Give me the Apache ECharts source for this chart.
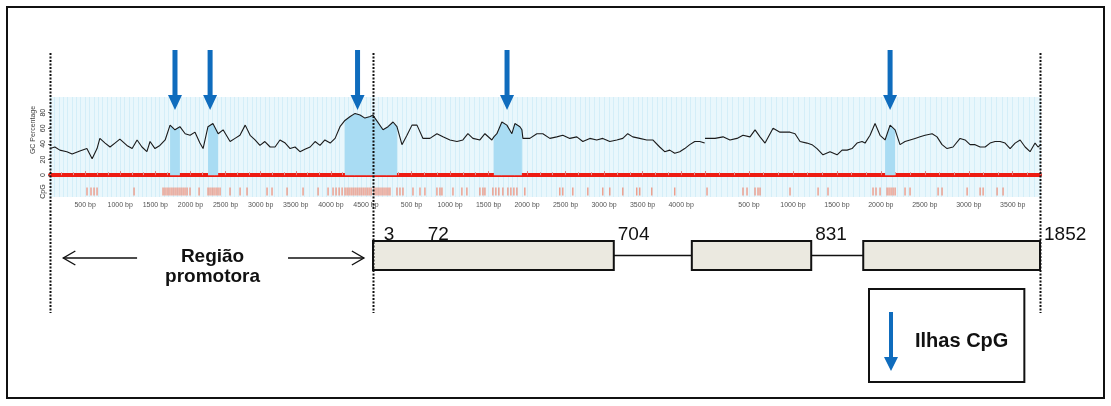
<!DOCTYPE html>
<html>
<head>
<meta charset="utf-8">
<script src="https://cdn.jsdelivr.net/npm/echarts@6/dist/echarts.min.js"></script>
<style>
  html, body { margin: 0; padding: 0; background: #fff; }
  #wrap { position: relative; width: 1111px; height: 406px; }
  #chart { width: 1111px; height: 406px; }
  #frame { position: absolute; left: 6px; top: 6px; width: 1099px; height: 393px;
           border: 2px solid #111; box-sizing: border-box; pointer-events: none; }
</style>
</head>
<body>
<div id="wrap"><div id="chart"></div><div id="frame"></div></div>
<script>
// ---- GC content along the three sequence stretches (position in bp, GC %) ----
const promoterPos = [0,70,140,240,315,425,525,600,670,710,785,855,925,995,1095,1170,1240,1310,1380,1425,1495,1565,1640,1710,1780,1850,1925,1995,2065,2135,2180,2250,2320,2395,2465,2565,2635,2705,2780,2850,2920,2990,3060,3135,3205,3275,3350,3420,3490,3560,3630,3705,3775,3845,3915,3990,4060,4130,4200,4275,4345,4415,4485,4560,4600];
const promoterGC  = [34,36,32,30,27,31,34,21,34,47,41,36,41,46,38,34,45,36,30,43,34,38,45,64,58,62,53,51,55,41,34,62,66,53,58,43,47,51,64,51,45,38,43,36,36,45,41,34,36,30,33,36,43,38,45,41,47,62,70,75,79,77,73,75,77];

const geneAPos = [0,26,130,195,260,311,376,441,506,571,649,739,830,908,999,1090,1167,1232,1297,1388,1453,1543,1569,1608,1673,1738,1803,1842,1907,1933,1946,2036,2127,2205,2296,2386,2464,2555,2646,2724,2815,2905,2983,3074,3165,3243,3307,3372,3463,3554,3632,3722,3787,3852,3917,3982,4047,4112,4177,4242,4306];
const geneAGC  = [77,73,58,62,68,62,39,51,64,64,47,47,53,49,45,43,45,53,47,45,53,45,49,53,68,64,53,66,62,58,47,47,53,53,47,49,51,47,49,43,47,45,47,43,45,47,53,49,47,45,45,36,30,32,28,30,34,39,43,43,41];

const geneBPos = [0,114,205,284,364,432,512,569,626,683,774,853,967,1024,1081,1160,1217,1274,1342,1422,1502,1559,1616,1672,1729,1786,1820,1877,1934,1991,2048,2105,2162,2218,2275,2332,2389,2446,2503,2583,2639,2696,2753,2821,2901,2958,3015,3072,3129,3186,3242,3299,3356,3413,3470,3527,3584,3641,3697,3754,3788,3810];
const geneBGC  = [47,47,49,45,47,51,49,58,49,41,60,55,55,53,43,41,39,34,26,30,26,32,32,34,41,43,41,51,66,51,45,64,58,39,43,45,47,49,51,53,49,39,34,36,47,45,39,39,36,36,41,43,43,41,34,41,45,36,30,41,36,38];

// stretch lengths (bp)
const stretchLength = [4600, 4310, 3810];

// CpG islands [start, end] in bp, and where each island is flagged
const promoterIslands = [[1710, 1850], [2250, 2395], [4200, 4600]];
const geneAIslands    = [[0, 340], [1569, 1933]];
const geneBIslands    = [[2048, 2162]];
const promoterArrows  = [1780, 2280, 4380];
const geneAArrows     = [1740];
const geneBArrows     = [2105];

// individual CpG dinucleotides (bp)
const promoterCpG = [527,584,627,670,1197,1610,1638,1667,1695,1724,1752,1781,1809,1838,1866,1895,1923,1952,1994,2123,2251,2279,2308,2336,2365,2393,2422,2564,2707,2806,3091,3162,3376,3604,3818,3960,4031,4074,4117,4160,4202,4231,4259,4288,4316,4345,4373,4402,4430,4459,4487,4516,4544,4573];
const geneACpG    = [13,39,65,91,117,143,169,195,220,311,350,389,519,610,674,830,869,895,1038,1154,1219,1388,1427,1453,1556,1595,1634,1686,1751,1790,1829,1868,1971,2425,2464,2594,2789,2983,3074,3243,3424,3463,3619,3917];
const geneBCpG    = [23,432,478,569,603,626,967,1286,1399,1911,1945,1991,2071,2093,2116,2139,2162,2275,2332,2651,2696,2981,3129,3163,3322,3390];

// GC axis
const gcTicks = [0, 20, 40, 60, 80];

// gene model (schematic units 0-100) and transcript coordinates
const exons = [[0, 36.1], [47.8, 65.7], [73.5, 100]];
const exonMarks = ['3', '72', '704', '831', '1852'];
const exonMarkAt = [1, 7.6, 36.1, 65.7, 100];

// promoter annotation: arrow [tail, tip] in promoter bp
const promoterLabel = 'Região\npromotora';
const promoterArrowSpans = [[1240, 190], [3390, 4470]];
const legendLabel = 'Ilhas CpG';

// ---------------------------------------------------------------------------
const FONT = "Arial, 'Liberation Sans', sans-serif";
const BLUE = '#0f6cbd';
const CPG_ROW = -21;

const stretches = [
  { pos: promoterPos, gc: promoterGC, islands: promoterIslands, arrows: promoterArrows, cpg: promoterCpG },
  { pos: geneAPos,    gc: geneAGC,    islands: geneAIslands,    arrows: geneAArrows,    cpg: geneACpG },
  { pos: geneBPos,    gc: geneBGC,    islands: geneBIslands,    arrows: geneBArrows,    cpg: geneBCpG }
];
const gridBoxes = [{ left: 50, width: 323 }, { left: 373, width: 332 }, { left: 705, width: 335 }];

function arrowItem(params, api) {
  const x = api.coord([api.value(0), 0])[0];
  const cs = params.coordSys;
  const top = cs.y - 47, head = cs.y - 2, tip = cs.y + 13;
  return {
    type: 'polygon',
    shape: { points: [[x - 2.5, top], [x + 2.5, top], [x + 2.5, head], [x + 7, head], [x, tip], [x - 7, head], [x - 2.5, head]] },
    style: { fill: BLUE }
  };
}

function boundaryItem(params, api) {
  const x = Math.round(api.coord([api.value(0), 0])[0]) + 0.5;
  const cs = params.coordSys;
  return {
    type: 'line',
    shape: { x1: x, y1: cs.y - 44, x2: x, y2: cs.y + 216 },
    style: { stroke: '#111', lineWidth: 2, lineDash: [2, 1.5] }
  };
}

function promoterNoteItem(params, api) {
  const cs = params.coordSys;
  const ay = cs.y + 161;
  const children = [];
  promoterArrowSpans.forEach(([tail, tip]) => {
    const x0 = api.coord([tail, 0])[0], x1 = api.coord([tip, 0])[0];
    const d = x1 > x0 ? 1 : -1;
    children.push({ type: 'line', shape: { x1: x0, y1: ay, x2: x1, y2: ay }, style: { stroke: '#111', lineWidth: 1.4 } });
    children.push({ type: 'polyline', shape: { points: [[x1 - d * 12, ay - 7], [x1, ay], [x1 - d * 12, ay + 7]] },
                    style: { stroke: '#111', lineWidth: 1.4, fill: null } });
  });
  const cx = (api.coord([promoterArrowSpans[0][0], 0])[0] + api.coord([promoterArrowSpans[1][0], 0])[0]) / 2;
  children.push({ type: 'text', style: { text: promoterLabel, x: cx, y: cs.y + 169.5, align: 'center', verticalAlign: 'middle',
                  fontFamily: FONT, fontWeight: 'bold', fontSize: 19, lineHeight: 20, fill: '#111' } });
  return { type: 'group', children };
}

const grid = gridBoxes.map(b => ({
  left: b.left, width: b.width, top: 97, height: 100,
  show: true, backgroundColor: '#e9f7fc', borderWidth: 0
}));
grid.push({ left: 373, width: 667, top: 241, height: 29 });

const xAxis = [];
const yAxis = [];
stretches.forEach((s, i) => {
  xAxis.push({
    type: 'value', gridIndex: i, min: 0, max: stretchLength[i], interval: 500,
    axisLine: { onZero: true, lineStyle: { color: '#ee1c12', width: 4 } },
    axisTick: { inside: true, length: 4, lineStyle: { color: '#d77', width: 1 } },
    minorTick: { show: true, splitNumber: 3, length: 3, lineStyle: { color: '#d99', width: 1 } },
    axisLabel: { fontSize: 7, color: '#555', fontFamily: FONT, margin: 5, showMinLabel: false, showMaxLabel: false,
                 formatter: v => v + ' bp' },
    splitLine: { show: false }
  });
});
stretches.forEach((s, i) => {
  xAxis.push({
    type: 'value', gridIndex: i, min: 0, max: stretchLength[i], interval: 62.5,
    axisLine: { show: false }, axisTick: { show: false }, axisLabel: { show: false },
    splitLine: { show: true, lineStyle: { color: '#d4eef8', width: 1 } }
  });
});
xAxis.push({ type: 'value', gridIndex: 3, min: 0, max: 100, show: false });

stretches.forEach((s, i) => {
  yAxis.push(i === 0 ? {
    type: 'value', gridIndex: i, min: -28, max: 100,
    name: 'GC Percentage', nameLocation: 'middle', nameGap: 13, nameRotate: 90,
    nameTextStyle: { fontSize: 7, color: '#444', fontFamily: FONT, padding: [0, 0, 0, 34] },
    axisLine: { show: false },
    axisTick: { show: true, length: 2, customValues: gcTicks, lineStyle: { color: '#666' } },
    axisLabel: { fontSize: 7, color: '#333', fontFamily: FONT, rotate: 90, margin: 3,
                 customValues: [CPG_ROW].concat(gcTicks), formatter: v => (v < 0 ? 'CpG' : String(v)) },
    splitLine: { show: false }
  } : { type: 'value', gridIndex: i, min: -28, max: 100, show: false, splitLine: { show: false } });
});
yAxis.push({ type: 'value', gridIndex: 3, min: 0, max: 1, show: false });

const series = [];
stretches.forEach((s, i) => {
  const pts = s.pos.map((p, k) => [p, s.gc[k]]);
  const inIsland = p => s.islands.some(([a, b]) => p >= a && p <= b);
  series.push({
    type: 'line', xAxisIndex: i, yAxisIndex: i, silent: true, z: 2,
    data: pts.map(([p, g]) => (inIsland(p) ? [p, g] : [p, '-'])),
    showSymbol: false, connectNulls: false,
    lineStyle: { opacity: 0 }, areaStyle: { color: '#a9dcf3', opacity: 1 }
  });
  series.push({
    type: 'line', xAxisIndex: i, yAxisIndex: i, silent: true, z: 3,
    data: pts, showSymbol: false,
    lineStyle: { color: '#1b1b1b', width: 1.1 }
  });
  series.push({
    type: 'scatter', xAxisIndex: i, yAxisIndex: i, silent: true, z: 2,
    data: s.cpg.map(p => [p, CPG_ROW]), symbol: 'rect', symbolSize: [1.3, 8],
    itemStyle: { color: '#ef7c62' }
  });
  series.push({
    type: 'custom', name: legendLabel, xAxisIndex: i, yAxisIndex: i, silent: true, z: 10,
    data: s.arrows.map(p => [p]), renderItem: arrowItem, itemStyle: { color: BLUE }
  });
});
// stretch boundaries
series.push({ type: 'custom', xAxisIndex: 0, yAxisIndex: 0, silent: true, z: 11,
              data: [[0], [stretchLength[0]]], renderItem: boundaryItem });
series.push({ type: 'custom', xAxisIndex: 2, yAxisIndex: 2, silent: true, z: 11,
              data: [[stretchLength[2]]], renderItem: boundaryItem });
// promoter annotation
series.push({ type: 'custom', xAxisIndex: 0, yAxisIndex: 0, silent: true, z: 11,
              data: [[0]], renderItem: promoterNoteItem });

// gene model
series.push({
  type: 'custom', xAxisIndex: 6, yAxisIndex: 3, silent: true, z: 5,
  data: exons.slice(0, -1).map((e, k) => [e[1], exons[k + 1][0]]),
  renderItem: (params, api) => {
    const a = api.coord([api.value(0), 0.5]), b = api.coord([api.value(1), 0.5]);
    return { type: 'line', shape: { x1: a[0], y1: a[1], x2: b[0], y2: b[1] }, style: { stroke: '#111', lineWidth: 1.6 } };
  }
});
series.push({
  type: 'custom', xAxisIndex: 6, yAxisIndex: 3, silent: true, z: 6,
  data: exons,
  renderItem: (params, api) => {
    const a = api.coord([api.value(0), 1]), b = api.coord([api.value(1), 0]);
    return { type: 'rect', shape: { x: a[0], y: a[1], width: b[0] - a[0], height: b[1] - a[1] },
             style: { fill: '#ebe9e0', stroke: '#111', lineWidth: 2 } };
  }
});
series.push({
  type: 'custom', xAxisIndex: 6, yAxisIndex: 3, silent: true, z: 7,
  data: exonMarkAt.map((p, k) => [p, k]),
  renderItem: (params, api) => {
    const c = api.coord([api.value(0), 1]);
    return { type: 'text', style: { text: exonMarks[api.value(1)], x: c[0] + 4, y: c[1] + 3, align: 'left', verticalAlign: 'bottom',
             fontFamily: FONT, fontSize: 19, fill: '#111' } };
  }
});

const chart = echarts.init(document.getElementById('chart'), null, { renderer: 'canvas' });
chart.setOption({
  animation: false,
  backgroundColor: '#fff',
  grid, xAxis, yAxis, series,
  legend: {
    data: [legendLabel], selectedMode: false,
    left: 869, top: 289, orient: 'vertical',
    padding: [23, 16, 11, 15],
    borderColor: '#111', borderWidth: 2, backgroundColor: '#fff',
    icon: 'path://M5,0L9,0L9,45L14,45L7,59L0,45L5,45Z',
    itemWidth: 38, itemHeight: 59,
    itemStyle: { color: BLUE },
    textStyle: { fontFamily: FONT, fontWeight: 'bold', fontSize: 20, color: '#111' }
  }
});
</script>
</body>
</html>
